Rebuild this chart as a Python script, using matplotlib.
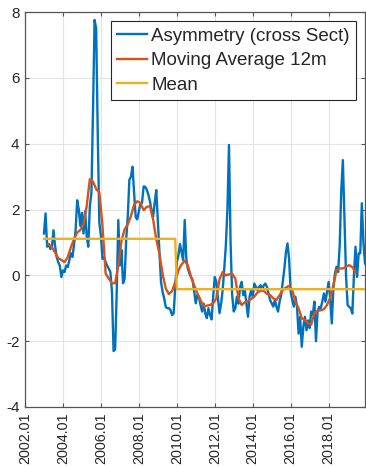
import numpy as np
import pandas as pd
import matplotlib
matplotlib.use("Agg")
import matplotlib.pyplot as plt

plt.rcParams['font.family'] = ['Liberation Sans', 'DejaVu Sans']
plt.rcParams['axes.unicode_minus'] = False

# ---------------- data ----------------
asym_start = "2003-01"
asymmetry = [
    1.27, 1.88, 0.87, 0.95, 0.80, 0.85, 1.37, 0.90, 0.56, 0.40, 0.30, -0.05,    # 2003
    0.15, 0.10, 0.30, 0.25, 0.45, 0.67, 0.56, 0.93, 1.37, 2.28, 2.00, 1.50,     # 2004
    1.90, 1.27, 1.95, 1.20, 0.87, 2.10, 2.50, 5.00, 7.76, 7.50, 4.30, 1.60,     # 2005
    1.20, 0.50, 0.55, 0.40, 0.29, 0.20, 0.10, -0.50, -2.30, -2.25, -0.50, 1.68, # 2006
    0.30, 0.77, -0.24, -0.10, 1.10, 1.80, 2.90, 3.00, 3.30, 2.50, 1.77, 1.70,   # 2007
    1.95, 2.18, 2.20, 2.70, 2.69, 2.60, 2.45, 2.25, 1.98, 1.78, 2.20, 2.59,     # 2008
    1.68, 0.80, -0.20, -0.50, -0.70, -0.96, -1.00, -1.00, -1.05, -1.21, -1.15, -0.40,  # 2009
    0.40, 0.60, 0.95, 0.70, 0.46, 1.68, 0.50, 0.20, 0.05, -0.05, -0.15, -0.50,  # 2010
    -0.85, -0.60, -0.65, -0.90, -1.10, -0.86, -1.16, -1.30, -1.00, -1.20, -1.34, -0.65,  # 2011
    -0.05, -0.20, -0.70, -1.15, -0.86, -0.45, 0.20, 0.90, 2.00, 3.96, 1.00, -0.60,  # 2012
    -1.10, -1.00, -0.65, -0.86, -0.35, -0.20, -0.60, -0.45, -0.86, -1.26, -0.65, -0.45,  # 2013
    -0.65, -0.25, -0.35, -0.45, -0.35, -0.30, -0.45, -0.30, -0.25, -0.35, -0.55, -0.75,  # 2014
    -0.85, -0.95, -0.75, -0.95, -1.10, -0.80, -0.60, -0.20, 0.20, 0.70, 0.97, 0.50,  # 2015
    -0.50, -0.75, -0.95, -0.65, -0.95, -1.77, -1.26, -2.17, -1.57, -1.26, -1.67, -1.37,  # 2016
    -1.60, -1.10, -1.20, -0.80, -2.00, -1.10, -0.96, -1.00, -0.80, -0.55, -0.80, -0.50,  # 2017
    -0.20, -0.70, -1.46, -0.40, 0.06, 0.26, 0.10, 0.90, 2.59, 3.50, 1.80, 0.00,  # 2018
    -0.90, -0.96, -1.00, -1.16, 0.00, 0.87, -0.05, 0.67, 0.67, 2.19, 1.00, 0.36,  # 2019
]

ma_start = "2003-03"   # every second month
moving_avg = [
    0.95, 0.85, 0.70, 0.52, 0.47, 0.40, 0.55, 0.85, 1.10, 1.30, 1.38, 1.55,
    2.10, 2.92, 2.85, 2.62, 2.52, 1.50, 0.05, -0.10, -0.24, -0.24, 0.30, 1.05,
    1.40, 1.55, 1.80, 2.15, 2.25, 2.20, 1.98, 2.08, 2.10, 1.70, 1.10, 0.65,
    0.05, -0.40, -0.57, -0.48, -0.20, 0.15, 0.33, 0.44, 0.30, -0.05, -0.30, -0.55,
    -0.75, -0.95, -0.92, -0.90, -0.85, -0.70, -0.12, 0.10, 0.00, 0.03, 0.05, -0.10,
    -0.70, -0.90, -0.82, -0.78, -0.72, -0.65, -0.52, -0.47, -0.47, -0.56, -0.60, -0.70,
    -0.75, -0.60, -0.45, -0.37, -0.32, -0.45, -0.80, -1.00, -1.30, -1.36, -1.45, -1.50,
    -1.15, -1.08, -1.06, -1.03, -0.90, -0.68, -0.30, 0.16, 0.21, 0.21, 0.26, 0.31,
    0.25, 0.10,
]

mean_periods = ["2003-01", "2009-12", "2010-01", "2019-12"]
mean_values = [1.11, 1.11, -0.42, -0.42]

labels = ["Asymmetry (cross Sect)", "Moving Average 12m", "Mean"]
xtick_years = [2002, 2004, 2006, 2008, 2010, 2012, 2014, 2016, 2018]
yticks = [-4, -2, 0, 2, 4, 6, 8]


def to_decimal(periods):
    p = pd.PeriodIndex(periods, freq="M")
    return p.year + (p.month - 1) / 12.0


x_asym = to_decimal(pd.period_range(asym_start, periods=len(asymmetry), freq="M"))
x_ma = to_decimal(pd.period_range(ma_start, periods=len(moving_avg), freq="2M"))
x_mean = to_decimal(mean_periods)

# ---------------- figure ----------------
W, H = 366, 467
fig = plt.figure(figsize=(W / 100, H / 100), dpi=100)
ax = fig.add_axes([25 / W, 1 - 407 / H, 340 / W, 395 / H])

c_blue = "#0072BD"
c_orange = "#D95319"
c_yellow = "#EDB120"

ax.plot(x_asym, asymmetry, color=c_blue, lw=1.7, label=labels[0], zorder=3)
ax.plot(x_ma, moving_avg, color=c_orange, lw=1.7, label=labels[1], zorder=4)
ax.plot(x_mean, mean_values, color=c_yellow, lw=1.7, label=labels[2], zorder=5)

ax.set_xlim(2002.0, 2019.917)
ax.set_ylim(-4, 8)
ax.set_xticks(xtick_years)
ax.set_xticklabels([f"{y}.01" for y in xtick_years], rotation=90)
ax.set_yticks(yticks)
ax.set_yticklabels([str(v) for v in yticks])

ax.grid(True, color="#e3e3e3", lw=0.8)
ax.set_axisbelow(True)
for s in ax.spines.values():
    s.set_color("#555555")
    s.set_linewidth(0.9)
ax.tick_params(direction="in", length=3, width=0.8, colors="#555555",
               labelcolor="#262626", labelsize=11, top=True, right=True)
ax.tick_params(axis="x", pad=4, labelsize=10.4)
ax.tick_params(axis="y", pad=4)

leg = ax.legend(loc="upper right", fontsize=13.5, handlelength=1.6,
                handletextpad=0.22, labelspacing=0.4, borderpad=0.32,
                borderaxespad=0.5, fancybox=False, framealpha=1)
leg.get_frame().set_edgecolor("#262626")
leg.get_frame().set_linewidth(0.8)
for t in leg.get_texts():
    t.set_color("#262626")

fig.savefig("out.png", dpi=100)
